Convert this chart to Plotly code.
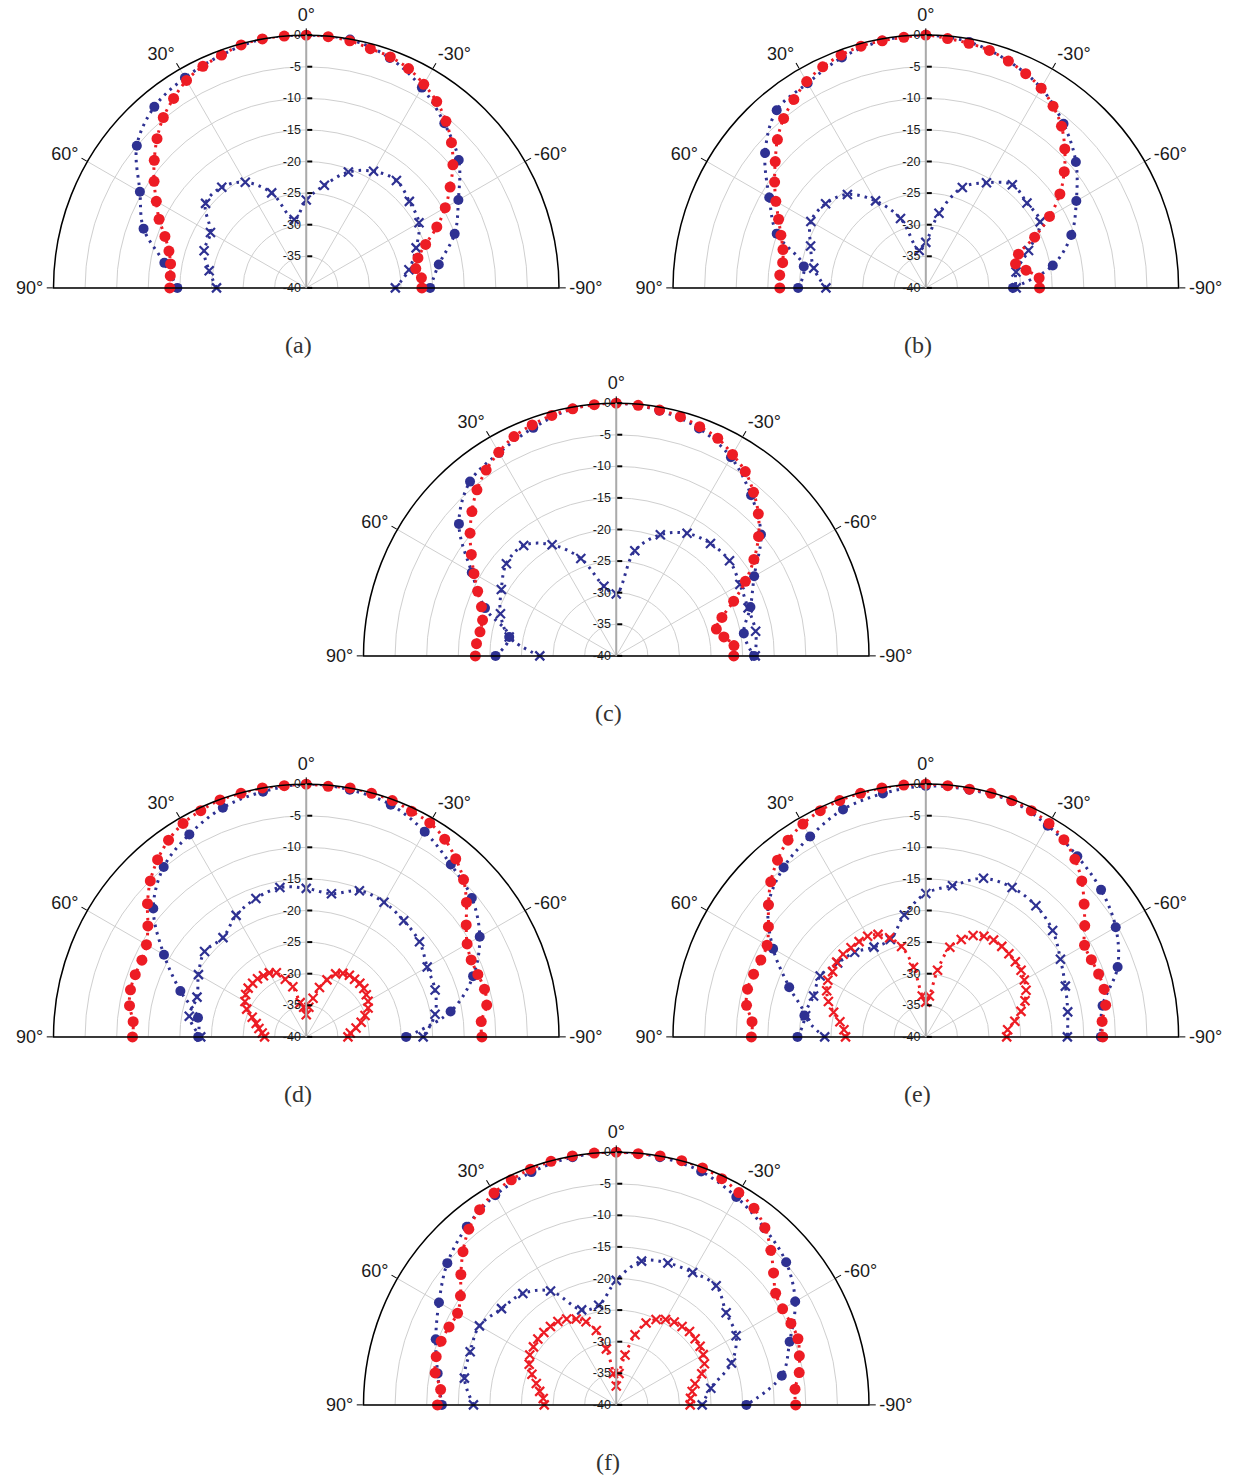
import plotly.graph_objects as go

# Sampling angles (degrees): 5-degree grid and 10-degree grid, from +90 (left) to -90 (right)
ANG5 = [90, 85, 80, 75, 70, 65, 60, 55, 50, 45, 40, 35, 30, 25, 20, 15, 10, 5, 0,
        -5, -10, -15, -20, -25, -30, -35, -40, -45, -50, -55, -60, -65, -70, -75, -80, -85, -90]
ANG10 = [90, 80, 70, 60, 50, 40, 30, 20, 10, 0, -10, -20, -30, -40, -50, -60, -70, -80, -90]

# Normalised radiation patterns (dB)
a_red = [-18.4, -18.4, -18.2, -17.5, -16.2, -14.3, -12.6, -10.6, -8.6, -6.6, -4.8, -3.4, -2.1, -1.3, -0.8, -0.2, 0.0, 0.0, 0.0,
         -0.1, -0.3, -0.8, -1.1, -1.7, -2.8, -4.0, -5.6, -7.5, -9.7, -12.2, -14.6, -17.2, -19.9, -21.7, -22.4, -21.7, -21.7]
a_blue = [-19.6, -17.2, -12.6, -9.6, -5.0, -2.6, -1.6, -0.8, 0.0, 0.0, -0.1, -1.3, -3.4, -6.0, -8.5, -12.2, -15.0, -18.7, -20.4]
a_bx = [-25.8, -24.4, -22.8, -22.5, -19.2, -19.2, -20.7, -24.0, -29.0, -26.1, -23.5, -20.5, -18.7, -17.8, -18.7, -19.4, -21.5, -23.5, -25.9]

b_red = [-16.9, -16.8, -17.0, -16.6, -15.6, -14.3, -12.6, -10.8, -8.9, -6.8, -5.0, -3.6, -2.3, -1.4, -0.8, -0.4, -0.3, -0.2, 0.0,
         -0.4, -0.7, -1.1, -1.8, -2.6, -3.5, -4.9, -6.6, -8.9, -11.4, -14.1, -17.4, -21.0, -24.4, -25.3, -23.9, -22.0, -22.0]
b_blue = [-19.8, -20.4, -14.9, -11.4, -6.8, -3.3, -2.6, -1.2, -0.3, 0.0, -0.5, -1.8, -3.5, -6.1, -9.0, -12.5, -15.5, -19.6, -26.2]
b_bx = [-24.2, -22.0, -20.6, -19.0, -19.3, -20.7, -24.1, -28.3, -34.0, -32.8, -28.0, -23.1, -20.8, -18.7, -19.1, -19.1, -22.7, -25.5, -25.7]

c_red = [-17.7, -17.8, -18.1, -18.1, -17.3, -15.8, -14.0, -12.0, -9.8, -7.7, -5.7, -4.1, -2.8, -1.7, -1.1, -0.6, -0.3, -0.1, 0.0,
         -0.2, -0.5, -0.8, -1.4, -2.0, -3.2, -4.4, -6.2, -8.2, -10.6, -13.4, -16.4, -19.5, -22.2, -23.6, -22.7, -21.3, -21.4]
c_blue = [-20.9, -22.8, -17.9, -13.6, -7.5, -4.0, -2.9, -1.6, -0.3, 0.0, -0.6, -1.7, -3.7, -6.8, -10.1, -14.8, -17.4, -19.5, -18.2]
c_bx = [-27.9, -22.8, -20.5, -19.0, -17.3, -17.2, -19.7, -23.6, -28.8, -30.2, -23.1, -19.6, -17.6, -16.8, -16.6, -17.4, -17.8, -17.6, -18.0]

d_red = [-12.5, -12.5, -11.6, -11.2, -11.2, -11.3, -10.8, -9.4, -7.2, -5.1, -3.4, -2.0, -1.0, -0.5, -0.1, -0.1, 0.0, -0.1, 0.0,
         -0.2, 0.0, -0.1, -0.2, -0.6, -0.9, -1.8, -3.2, -4.8, -6.9, -9.1, -10.6, -11.2, -11.1, -10.8, -11.0, -12.2, -12.2]
d_blue = [-22.9, -22.6, -18.8, -14.0, -8.4, -4.9, -3.0, -1.4, -0.6, 0.0, -0.3, -0.9, -2.5, -4.4, -5.8, -8.3, -11.9, -16.8, -24.2]
d_bx = [-23.3, -21.2, -21.6, -20.3, -19.0, -19.5, -17.8, -16.7, -16.0, -16.5, -17.0, -15.4, -15.4, -16.0, -16.6, -17.9, -18.3, -19.3, -21.5]
d_rx = [-33.4, -33.0, -32.4, -31.8, -30.9, -29.6, -28.8, -28.3, -28.0, -28.0, -28.0, -28.2, -28.3, -28.8, -30.3, -31.8, -34.5, -35.3, -36.5,
        -35.3, -33.8, -31.9, -30.4, -29.0, -28.4, -28.1, -28.1, -28.0, -28.1, -28.4, -28.7, -29.2, -30.1, -31.0, -32.0, -33.0, -33.4]

e_red = [-12.4, -12.4, -11.2, -10.8, -11.0, -11.2, -11.0, -9.6, -7.5, -5.3, -3.5, -2.0, -1.1, -0.5, -0.2, -0.1, 0.0, 0.0, 0.0,
         -0.1, -0.2, -0.1, -0.2, -0.5, -1.0, -1.9, -3.3, -5.1, -7.3, -9.3, -11.0, -11.1, -10.9, -10.8, -11.1, -12.0, -12.0]
e_blue = [-19.7, -20.5, -17.0, -12.1, -7.5, -5.0, -3.4, -1.7, -0.9, -0.3, -0.3, -0.3, -1.4, -2.7, -3.8, -5.3, -7.7, -11.6, -12.3]
e_bx = [-24.0, -20.7, -21.1, -20.7, -21.8, -22.5, -23.6, -23.6, -20.4, -17.3, -15.7, -13.3, -12.7, -12.9, -13.8, -15.4, -16.5, -17.2, -17.6]
e_rx = [-27.3, -27.0, -26.2, -24.9, -23.6, -22.7, -22.1, -22.0, -21.6, -21.5, -21.6, -21.6, -21.6, -22.1, -23.3, -25.2, -28.8, -33.5, -34.5,
        -33.5, -29.3, -25.3, -23.6, -22.3, -21.6, -21.3, -21.3, -21.4, -21.5, -21.6, -22.0, -22.5, -23.3, -24.4, -25.7, -27.0, -27.2]

f_red = [-11.7, -12.1, -10.9, -10.5, -10.5, -10.8, -11.0, -9.9, -7.9, -5.7, -3.7, -2.3, -1.3, -0.7, -0.3, -0.1, 0.0, 0.0, 0.0,
         -0.1, 0.0, 0.0, -0.1, -0.5, -1.2, -2.0, -3.4, -5.4, -7.5, -9.2, -9.6, -9.5, -9.4, -10.0, -10.6, -11.6, -11.6]
f_blue = [-12.4, -11.3, -9.6, -7.6, -5.1, -3.2, -1.7, -0.8, -0.2, 0.0, -0.2, -0.7, -2.0, -3.5, -4.9, -7.3, -10.8, -13.4, -19.4]
f_bx = [-17.4, -15.6, -15.4, -15.0, -16.3, -17.0, -19.2, -24.0, -24.0, -20.3, -16.9, -16.1, -15.8, -15.4, -17.3, -18.1, -20.6, -24.8, -26.4]
f_rx = [-28.6, -28.4, -27.7, -26.9, -25.8, -24.8, -24.2, -24.0, -23.8, -23.8, -23.8, -23.9, -24.3, -25.0, -26.0, -27.8, -31.0, -35.0, -37.0,
        -35.0, -32.0, -28.5, -26.2, -25.1, -24.4, -24.0, -23.8, -23.6, -23.7, -23.8, -24.1, -24.6, -25.6, -27.1, -27.8, -28.2, -28.3]

PANEL_LABELS = ["(a)", "(b)", "(c)", "(d)", "(e)", "(f)"]
ANGLE_TICKS = [90, 60, 30, 0, -30, -60, -90]
ANGLE_TEXT = ["90°", "60°", "30°", "0°", "-30°", "-60°", "-90°"]
R_TICKS = [-40, -35, -30, -25, -20, -15, -10, -5, 0]
R_TEXT = ["-40", "-35", "-30", "-25", "-20", "-15", "-10", "-5", "0"]

panels = [
    dict(red=a_red, blue=a_blue, bx=a_bx, rx=None),
    dict(red=b_red, blue=b_blue, bx=b_bx, rx=None),
    dict(red=c_red, blue=c_blue, bx=c_bx, rx=None),
    dict(red=d_red, blue=d_blue, bx=d_bx, rx=d_rx),
    dict(red=e_red, blue=e_blue, bx=e_bx, rx=e_rx),
    dict(red=f_red, blue=f_blue, bx=f_bx, rx=f_rx),
]

W, H = 1239, 1478
# pixel boxes (left, right, top, bottom) of each half-disc
boxes = [
    (53.5, 559.0, 35, 288),
    (673.0, 1178.6, 35, 288),
    (363.5, 869.0, 403, 656),
    (53.5, 559.0, 784, 1037),
    (673.0, 1178.6, 784, 1037),
    (363.5, 869.0, 1152, 1405),
]
caption_y = [345, 345, 713, 1094, 1094, 1462]

BLUE = "#2e3192"
RED = "#ed1c24"
DOT = "2.5px,5px"

fig = go.Figure()

for i, p in enumerate(panels):
    sp = "polar" if i == 0 else f"polar{i+1}"
    # blue cross series
    fig.add_trace(go.Scatterpolar(
        r=p["bx"], theta=ANG10, mode="lines+markers", subplot=sp, showlegend=False,
        line=dict(color=BLUE, width=3, dash=DOT, shape="spline", smoothing=1.0),
        marker=dict(symbol="x-thin", size=9, line=dict(color=BLUE, width=2.2)),
    ))
    # blue circle series
    fig.add_trace(go.Scatterpolar(
        r=p["blue"], theta=ANG10, mode="lines+markers", subplot=sp, showlegend=False,
        line=dict(color=BLUE, width=3, dash=DOT, shape="spline", smoothing=1.0),
        marker=dict(symbol="circle", size=10, color=BLUE),
    ))
    # red cross series
    if p["rx"] is not None:
        fig.add_trace(go.Scatterpolar(
            r=p["rx"], theta=ANG5, mode="lines+markers", subplot=sp, showlegend=False,
            line=dict(color=RED, width=3, dash=DOT, shape="spline", smoothing=1.0),
            marker=dict(symbol="x-thin", size=9, line=dict(color=RED, width=2.2)),
        ))
    # red circle series
    fig.add_trace(go.Scatterpolar(
        r=p["red"], theta=ANG5, mode="lines+markers", subplot=sp, showlegend=False,
        line=dict(color=RED, width=3, dash=DOT, shape="spline", smoothing=1.0),
        marker=dict(symbol="circle", size=11, color=RED),
    ))

    l, r, t, b = boxes[i]
    fig.layout[sp] = dict(
        domain=dict(x=[l / W, r / W], y=[1 - b / H, 1 - t / H]),
        sector=[0, 180],
        bgcolor="white",
        angularaxis=dict(
            rotation=90, direction="counterclockwise",
            tickmode="array", tickvals=ANGLE_TICKS, ticktext=ANGLE_TEXT,
            showline=True, linecolor="black", linewidth=1.5,
            showgrid=True, gridcolor="#cfcfcf", gridwidth=1,
            ticks="outside", ticklen=6, tickcolor="black", tickwidth=1.2,
            tickfont=dict(family="Liberation Sans, Arial", size=18, color="#1a1a1a"),
        ),
        radialaxis=dict(
            range=[-40, 0], angle=90, side="counterclockwise",
            tickmode="array", tickvals=R_TICKS, ticktext=R_TEXT,
            showline=True, linecolor="#aaaaaa", linewidth=2,
            showgrid=True, gridcolor="#cfcfcf", gridwidth=1,
            ticks="inside", ticklen=5, tickcolor="black", tickwidth=1.5,
            tickangle=90,
            tickfont=dict(family="Liberation Sans, Arial", size=12.5, color="#1a1a1a"),
        ),
    )
    fig.add_annotation(
        x=(l + r) / 2 / W - 8 / W, y=1 - caption_y[i] / H, xref="paper", yref="paper",
        text=PANEL_LABELS[i], showarrow=False, xanchor="center", yanchor="middle",
        font=dict(family="Liberation Serif, DejaVu Serif", size=24, color="#333333"),
    )

fig.update_layout(
    width=W, height=H, margin=dict(l=0, r=0, t=0, b=0),
    paper_bgcolor="white", plot_bgcolor="white", showlegend=False,
)

fig.write_html("out.html")
